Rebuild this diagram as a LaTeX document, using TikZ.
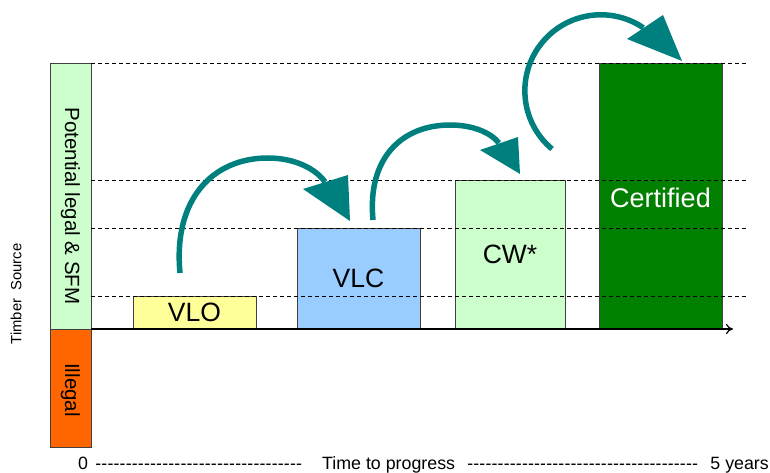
\documentclass[tikz,border=0pt]{standalone}
\usepackage{fontspec}
\setmainfont{Liberation Sans}
\usetikzlibrary{arrows.meta}
\definecolor{tealA}{HTML}{007F7F}
\definecolor{vloY}{HTML}{FFFF99}
\definecolor{vlcB}{HTML}{99CCFF}
\definecolor{cwG}{HTML}{CCFFCC}
\definecolor{certG}{HTML}{007F00}
\definecolor{illO}{HTML}{FF6600}
\begin{document}
\begin{tikzpicture}[x=1pt,y=1pt,
  boxnode/.style={draw=black!75, line width=0.8pt, inner sep=0pt, font=\fontsize{26.5}{30}\selectfont},
  guide/.style={draw=black, line width=0.7pt, dash pattern=on 4pt off 3pt},
  bendarrow/.style={draw=tealA, line width=5.5pt},
  headtri/.style={fill=tealA},
  small/.style={font=\fontsize{17.8}{20}\selectfont, inner sep=0pt, anchor=base west},
]
\useasboundingbox (0,0) rectangle (770,472);
% side bars
\node[boxnode, fill=cwG, minimum width=41pt, minimum height=266pt] (pot) at (70.5,276) {};
\node[boxnode, fill=illO, minimum width=41pt, minimum height=118pt] (ill) at (70.5,84) {};
\node[rotate=-90, font=\fontsize{20.5}{24}\selectfont] (potl) at (70.5,266) {Potential legal \& SFM};
\node[rotate=-90, font=\fontsize{20.5}{24}\selectfont] (illl) at (70.5,82) {Illegal};
\node[rotate=90, font=\fontsize{14.8}{17}\selectfont] (ts) at (16,178) {Timber~~Source};
% stage boxes
\node[boxnode, fill=vloY, minimum width=123pt, minimum height=33pt] (vlo) at (194.5,159.5) {VLO};
\node[boxnode, fill=vlcB, minimum width=123pt, minimum height=101pt] (vlc) at (358.5,193.5) {VLC};
\node[boxnode, fill=cwG, minimum width=110pt, minimum height=149pt] (cw) at (510,217.5) {CW*};
\node[boxnode, fill=certG, minimum width=123pt, minimum height=266pt] (cert) at (660.5,276) {};
\node[text=white, font=\fontsize{27}{31}\selectfont] (certl) at (660.5,274) {Certified};
% dashed guide lines
\coordinate (g1a) at (91,409); \coordinate (g1b) at (748,409);
\coordinate (g2a) at (91,292); \coordinate (g2b) at (748,292);
\coordinate (g3a) at (91,244); \coordinate (g3b) at (748,244);
\coordinate (g4a) at (91,176); \coordinate (g4b) at (748,176);
\draw[guide] (g1a) -- (g1b);
\draw[guide] (g2a) -- (g2b);
\draw[guide] (g3a) -- (g3b);
\draw[guide] (g4a) -- (g4b);
% axis
\coordinate (ax0) at (91,143); \coordinate (ax1) at (733,143);
\draw[line width=1.2pt, -{To[length=7pt,width=10pt]}] (ax0) -- (ax1);
% curved arrows
\coordinate (a1s) at (180,199); \coordinate (a1m) at (268,314); \coordinate (a1b) at (325,290);
\draw[bendarrow] (a1s) .. controls (173,272) and (212,314) .. (a1m) .. controls (295,314) and (316,303) .. (a1b);
\fill[headtri] (303,283) -- (348,297) -- (350,251) -- cycle;
\coordinate (a2s) at (373,252); \coordinate (a2m) at (450,347); \coordinate (a2b) at (499,329);
\draw[bendarrow] (a2s) .. controls (367,314) and (402,347) .. (a2m) .. controls (472,347) and (490,340) .. (a2b);
\fill[headtri] (480,322) -- (518,335) -- (520,298) -- cycle;
\coordinate (a3s) at (552,323);
\draw[bendarrow] (a3s) arc[start angle=230, end angle=56, radius=76] coordinate (a3b);
\fill[headtri] (627,433) -- (663,457) -- (682,411) -- cycle;
% bottom time scale
\node[small] (t0) at (78,3) {0};
\node[small] (d1) at (95,3) {\hbox to 207pt{\xleaders\hbox{-}\hfil}};
\node[small] (tp) at (322,3) {Time to progress};
\node[small] (d2) at (467,3) {\hbox to 231pt{\xleaders\hbox{-}\hfil}};
\node[small, anchor=base east] (t5) at (769,3) {5 years};
\end{tikzpicture}
\end{document}
